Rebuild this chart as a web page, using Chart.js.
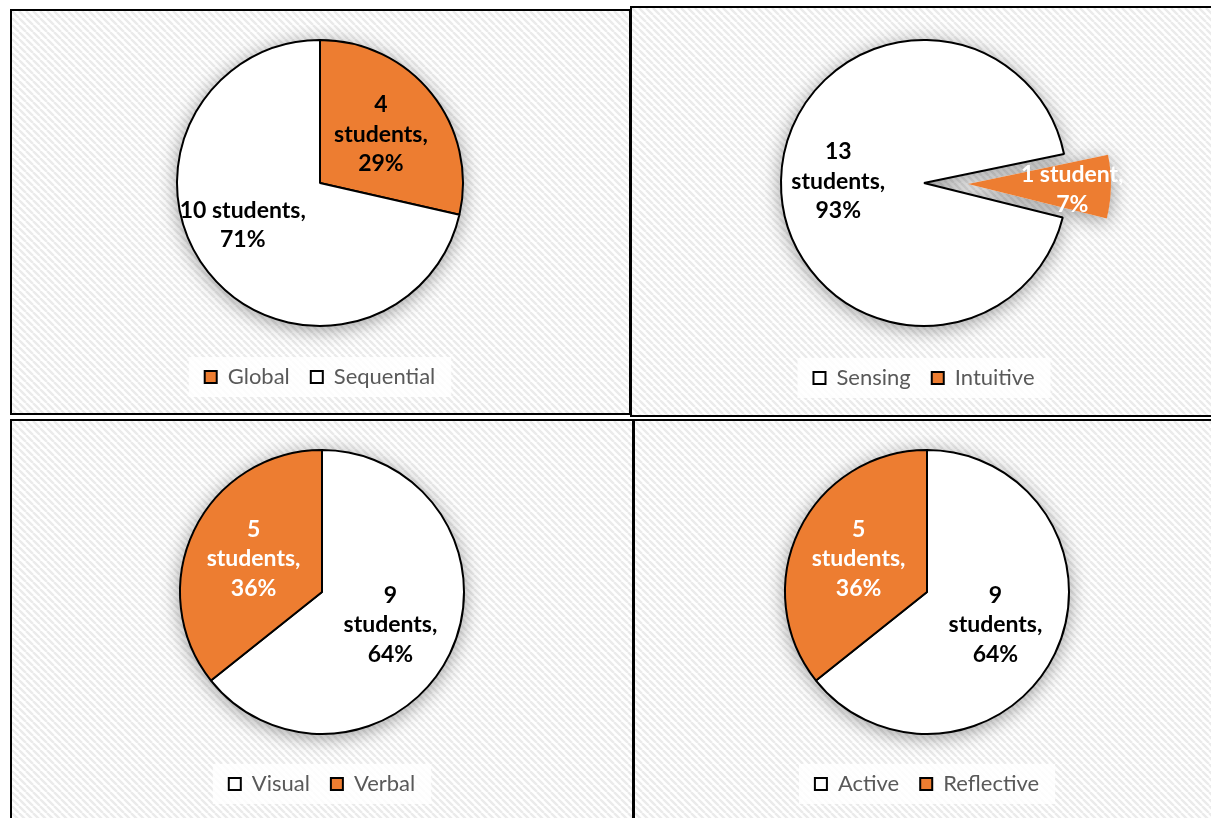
<!DOCTYPE html>
<html>
<head>
<meta charset="utf-8">
<script src="https://cdn.jsdelivr.net/npm/chart.js@4.4.1/dist/chart.umd.min.js"></script>
<style>
  html, body { margin: 0; padding: 0; background: #fff; }
  body { width: 1211px; height: 818px; position: relative; overflow: hidden; }
  .panel { position: absolute; border: 2px solid #000; box-sizing: border-box; overflow: hidden; }
  .panel canvas { position: absolute; left: 0; top: 0; }
</style>
</head>
<body>
<div class="panel" id="p1" style="left:10px; top:9px; width:621px; height:406px;"><canvas id="c1" width="617" height="402"></canvas></div>
<div class="panel" id="p2" style="left:630px; top:6px; width:600px; height:411px;"><canvas id="c2" width="596" height="407"></canvas></div>
<div class="panel" id="p3" style="left:10px; top:419px; width:624px; height:420px;"><canvas id="c3" width="620" height="416"></canvas></div>
<div class="panel" id="p4" style="left:633px; top:419px; width:600px; height:420px;"><canvas id="c4" width="596" height="416"></canvas></div>
<script>
// learning style counts (14 students)
const seqLabels = ["Global", "Sequential"];
const seqStudents = [4, 10];

const senLabels = ["Sensing", "Intuitive"];
const senStudents = [13, 1];

const visLabels = ["Visual", "Verbal"];
const visStudents = [9, 5];

const actLabels = ["Active", "Reflective"];
const actStudents = [9, 5];

const orange = "#ED7D31";
const white = "#FFFFFF";

const LEGEND_FONT = 22;
const LEGEND_PAD = 21;

Chart.defaults.font.family = "Lato, 'Noto Sans', sans-serif";

// hatched panel background
function hatchPattern(ctx) {
  const s = 7;
  const tile = document.createElement("canvas");
  tile.width = s;
  tile.height = s;
  const t = tile.getContext("2d");
  t.fillStyle = "#fff";
  t.fillRect(0, 0, s, s);
  t.strokeStyle = "#ebebeb";
  t.lineWidth = 2.4;
  t.beginPath();
  for (const k of [-s, 0, s]) {
    t.moveTo(k, 0);
    t.lineTo(k + s, s);
  }
  t.stroke();
  return ctx.createPattern(tile, "repeat");
}

const panelBackground = {
  id: "panelBackground",
  beforeDraw(chart) {
    const ctx = chart.ctx;
    ctx.save();
    ctx.fillStyle = hatchPattern(ctx);
    ctx.fillRect(0, 0, chart.width, chart.height);
    // light plate behind the legend
    const boxes = chart.legend && chart.legend.legendHitBoxes;
    if (boxes && boxes.length) {
      const first = boxes[0];
      const last = boxes[boxes.length - 1];
      const x0 = first.left - 16;
      const x1 = last.left + last.width + 16;
      const cy = first.top + first.height / 2;
      ctx.fillStyle = "rgba(255,255,255,0.85)";
      ctx.fillRect(x0, cy - 20, x1 - x0, 40);
    }
    ctx.restore();
  }
};

// pull selected slices away from the centre
const explodeSlices = {
  id: "explodeSlices",
  afterDatasetsUpdate(chart, args, opts) {
    const dist = opts.distance || [];
    const meta = chart.getDatasetMeta(0);
    meta.data.forEach((arc, i) => {
      const d = dist[i] || 0;
      if (!d) return;
      const mid = (arc.startAngle + arc.endAngle) / 2;
      arc.x += Math.cos(mid) * d;
      arc.y += Math.sin(mid) * d;
    });
  }
};

// soft shadow under the pie
const pieShadow = {
  id: "pieShadow",
  beforeDatasetsDraw(chart) {
    const ctx = chart.ctx;
    const meta = chart.getDatasetMeta(0);
    ctx.save();
    ctx.shadowColor = "rgba(0,0,0,0.4)";
    ctx.shadowBlur = 20;
    ctx.shadowOffsetY = 3;
    ctx.fillStyle = "#fff";
    meta.data.forEach(arc => {
      ctx.beginPath();
      ctx.moveTo(arc.x, arc.y);
      ctx.arc(arc.x, arc.y, arc.outerRadius, arc.startAngle, arc.endAngle);
      ctx.closePath();
      ctx.fill();
    });
    ctx.restore();
  }
};

// "n students, p%" labels inside the slices
const sliceLabels = {
  id: "sliceLabels",
  afterDatasetsDraw(chart, args, opts) {
    const ctx = chart.ctx;
    const meta = chart.getDatasetMeta(0);
    const values = chart.data.datasets[0].data;
    const total = values.reduce((a, b) => a + b, 0);
    ctx.save();
    ctx.font = "bold 23px Lato, 'Noto Sans', sans-serif";
    ctx.textAlign = "center";
    ctx.textBaseline = "middle";
    meta.data.forEach((arc, i) => {
      const v = values[i];
      const word = v === 1 ? "student," : "students,";
      const pct = Math.round(v / total * 100) + "%";
      const lines = opts.layout[i] === "split" ? [String(v), word, pct] : [v + " " + word, pct];
      const [f, nudge] = opts.position[i];
      const a = (arc.startAngle + arc.endAngle) / 2 + nudge * Math.PI / 180;
      const x = arc.x + Math.cos(a) * f * arc.outerRadius;
      const y = arc.y + Math.sin(a) * f * arc.outerRadius;
      const lh = 29.5;
      ctx.fillStyle = opts.color[i];
      lines.forEach((ln, k) => {
        ctx.fillText(ln, x, y + (k - (lines.length - 1) / 2) * lh);
      });
    });
    ctx.restore();
  }
};

// padding so that the pie and legend sit where wanted
function placement(w, h, cx, cy, ly) {
  const legendH = LEGEND_FONT + LEGEND_PAD + 10;
  const itemMid = LEGEND_PAD + LEGEND_FONT / 2;
  const bottom = h - ly - (legendH - itemMid);
  const areaBottom = h - bottom - legendH;
  const top = 2 * cy - areaBottom;
  let left = 0, right = 0;
  if (2 * cx < w) right = w - 2 * cx; else left = 2 * cx - w;
  return { top, bottom, left, right };
}

function makePie(id, labels, values, colors, cfg) {
  const canvas = document.getElementById(id);
  return new Chart(canvas.getContext("2d"), {
    type: "pie",
    data: {
      labels: labels,
      datasets: [{
        data: values,
        backgroundColor: colors,
        borderColor: "#000",
        borderWidth: cfg.borderWidth,
        clip: false
      }]
    },
    options: {
      responsive: false,
      animation: false,
      devicePixelRatio: 1,
      events: [],
      radius: cfg.radius,
      rotation: cfg.rotation || 0,
      layout: { padding: placement(canvas.width, canvas.height, cfg.cx, cfg.cy, cfg.ly) },
      plugins: {
        tooltip: { enabled: false },
        legend: {
          position: "bottom",
          labels: {
            color: "#595959",
            font: { size: LEGEND_FONT },
            boxWidth: 12,
            boxHeight: 12,
            padding: LEGEND_PAD,
            generateLabels(chart) {
              const items = Chart.overrides.pie.plugins.legend.labels.generateLabels(chart);
              items.forEach(it => { it.strokeStyle = "#000"; it.lineWidth = 2; });
              return items;
            }
          }
        },
        explodeSlices: { distance: cfg.explode || [] },
        sliceLabels: { layout: cfg.layout, position: cfg.labelPos, color: cfg.labelColor }
      }
    },
    plugins: [panelBackground, explodeSlices, pieShadow, sliceLabels]
  });
}

makePie("c1", seqLabels, seqStudents, [orange, white], {
  radius: 143, cx: 308, cy: 172, ly: 366,
  borderWidth: [2, 2],
  layout: ["split", "join"],
  labelPos: [[0.545, 0], [0.615, 10]],
  labelColor: ["#000", "#000"]
});

makePie("c2", senLabels, senStudents, [white, orange], {
  radius: 143, cx: 292, cy: 175, ly: 370, rotation: 104,
  borderWidth: [2, 0],
  explode: [0, 44],
  layout: ["split", "join"],
  labelPos: [[0.6, 0], [0.73, 2]],
  labelColor: ["#000", "#fff"]
});

makePie("c3", visLabels, visStudents, [white, orange], {
  radius: 142, cx: 310, cy: 171, ly: 363,
  borderWidth: [2, 2],
  layout: ["split", "split"],
  labelPos: [[0.535, 0], [0.535, 0]],
  labelColor: ["#000", "#fff"]
});

makePie("c4", actLabels, actStudents, [white, orange], {
  radius: 142, cx: 292, cy: 171, ly: 363,
  borderWidth: [2, 2],
  layout: ["split", "split"],
  labelPos: [[0.535, 0], [0.535, 0]],
  labelColor: ["#000", "#fff"]
});
</script>
</body>
</html>
